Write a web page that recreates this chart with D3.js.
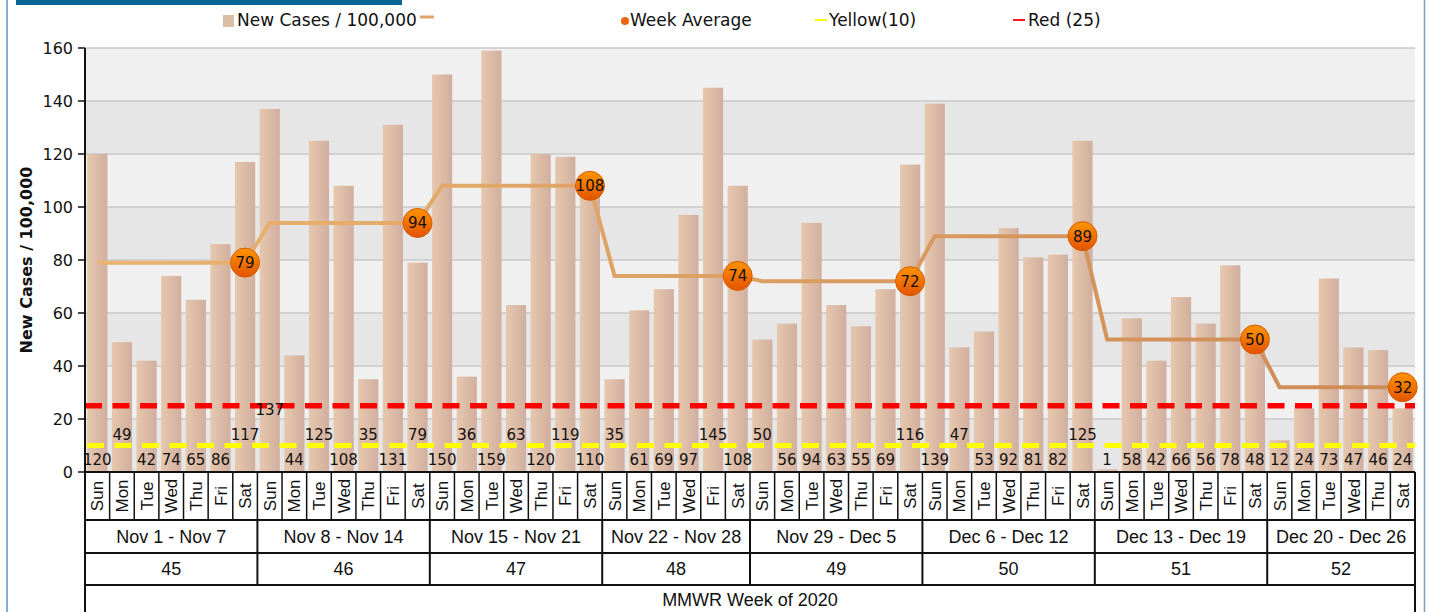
<!DOCTYPE html>
<html>
<head>
<meta charset="utf-8">
<script src="https://cdn.jsdelivr.net/npm/d3@7"></script>
<style>
  html, body { margin: 0; padding: 0; background: #ffffff; }
  svg { display: block; }
</style>
</head>
<body>
<svg id="chart" width="1430" height="612"></svg>
<script>
// ---------------- data ----------------
const weekRanges = ["Nov 1 - Nov 7", "Nov 8 - Nov 14", "Nov 15 - Nov 21", "Nov 22 - Nov 28",
                    "Nov 29 - Dec 5", "Dec 6 - Dec 12", "Dec 13 - Dec 19", "Dec 20 - Dec 26"];
const mmwrWeeks = [45, 46, 47, 48, 49, 50, 51, 52];
const weekDays = [
  ["Sun", "Mon", "Tue", "Wed", "Thu", "Fri", "Sat"],
  ["Sun", "Mon", "Tue", "Wed", "Thu", "Fri", "Sat"],
  ["Sun", "Mon", "Tue", "Wed", "Thu", "Fri", "Sat"],
  ["Sun", "Mon", "Tue", "Wed", "Fri", "Sat"],
  ["Sun", "Mon", "Tue", "Wed", "Thu", "Fri", "Sat"],
  ["Sun", "Mon", "Tue", "Wed", "Thu", "Fri", "Sat"],
  ["Sun", "Mon", "Tue", "Wed", "Thu", "Fri", "Sat"],
  ["Sun", "Mon", "Tue", "Wed", "Thu", "Sat"]
];
const newCases = [
  [120, 49, 42, 74, 65, 86, 117],
  [137, 44, 125, 108, 35, 131, 79],
  [150, 36, 159, 63, 120, 119, 110],
  [35, 61, 69, 97, 145, 108],
  [50, 56, 94, 63, 55, 69, 116],
  [139, 47, 53, 92, 81, 82, 125],
  [1, 58, 42, 66, 56, 78, 48],
  [12, 24, 73, 47, 46, 24]
];
// stacking row of each value label (0 = lowest), as seen in the picture
const valueLabelRow = [
  [0, 1, 0, 0, 0, 0, 1],
  [2, 0, 1, 0, 1, 0, 1],
  [0, 1, 0, 1, 0, 1, 0],
  [1, 0, 0, 0, 1, 0],
  [1, 0, 0, 0, 0, 0, 1],
  [0, 1, 0, 0, 0, 0, 1],
  [0, 0, 0, 0, 0, 0, 0],
  [0, 0, 0, 0, 0, 0]
];
const weekAverage = [79, 94, 108, 74, 72, 89, 50, 32];
const yellowLevel = 10;
const redLevel = 25;
const yTicks = [0, 20, 40, 60, 80, 100, 120, 140, 160];
const legendLabels = ["New Cases / 100,000", "Week Average", "Yellow(10)", "Red (25)"];
const yTitle = "New Cases / 100,000";
const xTitle = "MMWR Week of 2020";

// ---------------- flatten ----------------
const rows = [];
weekDays.forEach((days, w) => {
  days.forEach((d, i) => {
    rows.push({ key: w + "-" + i, week: w, day: d, value: newCases[w][i], tier: valueLabelRow[w][i],
                avg: weekAverage[w], last: i === days.length - 1 });
  });
});

// ---------------- layout ----------------
const svg = d3.select("#chart");
const W = 1430, H = 612;
const plot = { left: 85, right: 1415, top: 48, bottom: 472 };

const x = d3.scaleBand().domain(rows.map(r => r.key)).range([plot.left, plot.right]).paddingInner(0.18).paddingOuter(0.09);
const step = x.step();
const cx = k => x(k) + x.bandwidth() / 2;
const y = d3.scaleLinear().domain([0, 160]).range([plot.bottom, plot.top]);

const defs = svg.append("defs");
const barGrad = defs.append("linearGradient").attr("id", "barGrad").attr("x1", 0).attr("x2", 1).attr("y1", 0).attr("y2", 0);
barGrad.append("stop").attr("offset", "0%").attr("stop-color", "#e6c8ad");
barGrad.append("stop").attr("offset", "100%").attr("stop-color", "#d1ae9f");

const lineGrad = defs.append("linearGradient").attr("id", "lineGrad").attr("gradientUnits", "userSpaceOnUse")
  .attr("x1", plot.left).attr("x2", plot.right).attr("y1", 0).attr("y2", 0);
lineGrad.append("stop").attr("offset", "0%").attr("stop-color", "#ebb46f");
lineGrad.append("stop").attr("offset", "100%").attr("stop-color", "#cc8a55");

const dotGrad = defs.append("linearGradient").attr("id", "dotGrad").attr("x1", 0).attr("x2", 0).attr("y1", 0).attr("y2", 1);
dotGrad.append("stop").attr("offset", "0%").attr("stop-color", "#ff9400");
dotGrad.append("stop").attr("offset", "100%").attr("stop-color", "#e25300");

// frame
svg.append("rect").attr("x", 16).attr("y", 0).attr("width", 386).attr("height", 5).attr("fill", "#0b6595");
svg.append("line").attr("x1", 7).attr("x2", 7).attr("y1", 0).attr("y2", H).attr("stroke", "#5a8fd0").attr("stroke-width", 1.5);
svg.append("line").attr("x1", 1424.5).attr("x2", 1424.5).attr("y1", 0).attr("y2", H).attr("stroke", "#7f9cc4").attr("stroke-width", 1.5);

// background bands
const bands = d3.range(0, 160, 20);
svg.append("g").selectAll("rect").data(bands).join("rect")
  .attr("x", plot.left).attr("width", plot.right - plot.left)
  .attr("y", d => y(d + 20)).attr("height", d => y(d) - y(d + 20))
  .attr("fill", d => ((d / 20) % 2 === 0) ? "#e6e6e6" : "#f0f0f0");

// gridlines
svg.append("g").selectAll("line").data(yTicks.filter(t => t > 0)).join("line")
  .attr("x1", plot.left).attr("x2", plot.right)
  .attr("y1", d => y(d)).attr("y2", d => y(d))
  .attr("stroke", "#c9c9c9").attr("stroke-width", 1.5);

// bars
svg.append("g").selectAll("rect").data(rows).join("rect")
  .attr("x", d => x(d.key)).attr("width", x.bandwidth())
  .attr("y", d => y(d.value)).attr("height", d => y(0) - y(d.value))
  .attr("fill", "url(#barGrad)");

// threshold lines
svg.append("line").attr("x1", plot.left).attr("x2", plot.right)
  .attr("y1", y(yellowLevel)).attr("y2", y(yellowLevel))
  .attr("stroke", "#ffff00").attr("stroke-width", 5).attr("stroke-dasharray", "17 10.5").attr("stroke-dashoffset", -2);
svg.append("line").attr("x1", plot.left).attr("x2", plot.right)
  .attr("y1", y(redLevel)).attr("y2", y(redLevel))
  .attr("stroke", "#ff0000").attr("stroke-width", 5.5).attr("stroke-dasharray", "17 10.5");

// value labels, stacked in rows near the base
const rowGap = 25;
svg.append("g").attr("font-family", "DejaVu Sans").attr("font-size", 15).attr("fill", "#111")
  .selectAll("text").data(rows).join("text")
  .attr("x", d => cx(d.key)).attr("y", d => plot.bottom - 12 - d.tier * rowGap)
  .attr("text-anchor", "middle").attr("dy", "0.36em").text(d => d.value);

// week average line
const lineGen = d3.line().x(d => cx(d.key)).y(d => y(d.avg));
svg.append("path").datum(rows).attr("d", lineGen).attr("fill", "none")
  .attr("stroke", "url(#lineGrad)").attr("stroke-width", 4).attr("stroke-linejoin", "miter");

const markers = svg.append("g").selectAll("g").data(rows.filter(r => r.last)).join("g")
  .attr("transform", d => `translate(${cx(d.key)},${y(d.avg)})`);
markers.append("circle").attr("r", 14.5).attr("fill", "url(#dotGrad)").attr("stroke", "#d45a00").attr("stroke-width", 1);
markers.append("text").attr("text-anchor", "middle").attr("dy", "0.36em")
  .attr("font-family", "DejaVu Sans").attr("font-size", 15).attr("fill", "#111").text(d => d.avg);

// y axis
svg.append("line").attr("x1", plot.left).attr("x2", plot.left).attr("y1", plot.top).attr("y2", H)
  .attr("stroke", "#111").attr("stroke-width", 2);
const yt = svg.append("g");
yt.selectAll("line").data(yTicks).join("line")
  .attr("x1", plot.left - 7).attr("x2", plot.left).attr("y1", d => y(d)).attr("y2", d => y(d))
  .attr("stroke", "#111").attr("stroke-width", 1.5);
yt.selectAll("text").data(yTicks).join("text")
  .attr("x", plot.left - 12).attr("y", d => y(d)).attr("dy", "0.36em").attr("text-anchor", "end")
  .attr("font-family", "DejaVu Sans").attr("font-size", 16).attr("fill", "#111").text(d => d);
svg.append("text").attr("transform", `translate(32,260) rotate(-90)`).attr("text-anchor", "middle")
  .attr("font-family", "DejaVu Sans").attr("font-weight", "bold").attr("font-size", 16).attr("fill", "#111")
  .text(yTitle);

// category table
const rowY = [472, 520, 553, 585];
const tbl = svg.append("g").attr("stroke", "#111").attr("stroke-width", 2);
rowY.forEach(yy => tbl.append("line").attr("x1", plot.left).attr("x2", plot.right).attr("y1", yy).attr("y2", yy));
tbl.append("line").attr("x1", plot.right).attr("x2", plot.right).attr("y1", plot.bottom).attr("y2", H);
const edgeL = r => x(r.key) - step * 0.09;
const edgeR = r => x(r.key) + x.bandwidth() + step * 0.09;
tbl.selectAll(".dsep").data(rows.slice(1)).join("line").attr("class", "dsep")
  .attr("x1", d => edgeL(d)).attr("x2", d => edgeL(d))
  .attr("y1", rowY[0]).attr("y2", rowY[1]).attr("stroke-width", 1.5);
const weekStart = weekDays.map((d, w) => rows.find(r => r.week === w));
const weekEnd = weekDays.map((d, w) => rows.filter(r => r.week === w).slice(-1)[0]);
tbl.selectAll(".wsep").data(weekStart.slice(1)).join("line").attr("class", "wsep")
  .attr("x1", d => edgeL(d)).attr("x2", d => edgeL(d)).attr("y1", rowY[1]).attr("y2", rowY[3]);

const txt = svg.append("g").attr("fill", "#111");
txt.selectAll(".day").data(rows).join("text").attr("class", "day")
  .attr("transform", d => `translate(${cx(d.key)},${(rowY[0] + rowY[1]) / 2}) rotate(-90)`)
  .attr("text-anchor", "middle").attr("dy", "0.36em")
  .attr("font-family", "Liberation Sans, Arial").attr("font-size", 17).text(d => d.day);
txt.selectAll(".range").data(weekRanges).join("text").attr("class", "range")
  .attr("x", (d, w) => (edgeL(weekStart[w]) + edgeR(weekEnd[w])) / 2)
  .attr("y", (rowY[1] + rowY[2]) / 2).attr("dy", "0.36em").attr("text-anchor", "middle")
  .attr("font-family", "Liberation Sans, Arial").attr("font-size", 18).text(d => d);
txt.selectAll(".wk").data(mmwrWeeks).join("text").attr("class", "wk")
  .attr("x", (d, w) => (edgeL(weekStart[w]) + edgeR(weekEnd[w])) / 2)
  .attr("y", (rowY[2] + rowY[3]) / 2).attr("dy", "0.36em").attr("text-anchor", "middle")
  .attr("font-family", "Liberation Sans, Arial").attr("font-size", 18).text(d => d);
txt.append("text").attr("x", (plot.left + plot.right) / 2).attr("y", 600).attr("dy", "0.36em")
  .attr("text-anchor", "middle").attr("font-family", "Liberation Sans, Arial").attr("font-size", 18).text(xTitle);

// legend
const lg = svg.append("g").attr("font-family", "DejaVu Sans").attr("font-size", 17).attr("fill", "#111");
lg.append("rect").attr("x", 223).attr("y", 15).attr("width", 11).attr("height", 12).attr("fill", "#dcbfa9");
lg.append("text").attr("x", 237).attr("y", 20).attr("dy", "0.36em").text(legendLabels[0]);
lg.append("line").attr("x1", 420).attr("x2", 434).attr("y1", 17).attr("y2", 17).attr("stroke", "#e2a464").attr("stroke-width", 3);
lg.append("circle").attr("cx", 625).attr("cy", 21).attr("r", 4).attr("fill", "#e8670c");
lg.append("text").attr("x", 630).attr("y", 20).attr("dy", "0.36em").text(legendLabels[1]);
lg.append("line").attr("x1", 815).attr("x2", 827).attr("y1", 20).attr("y2", 20).attr("stroke", "#ffff00").attr("stroke-width", 2);
lg.append("text").attr("x", 829).attr("y", 20).attr("dy", "0.36em").text(legendLabels[2]);
lg.append("line").attr("x1", 1013).attr("x2", 1025).attr("y1", 20).attr("y2", 20).attr("stroke", "#ff1a1a").attr("stroke-width", 2);
lg.append("text").attr("x", 1028).attr("y", 20).attr("dy", "0.36em").text(legendLabels[3]);
</script>
</body>
</html>
